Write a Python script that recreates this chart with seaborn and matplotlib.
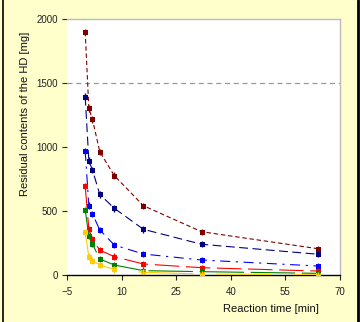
import numpy as np
import pandas as pd
import matplotlib
matplotlib.use("Agg")
import matplotlib.pyplot as plt
import seaborn as sns
from matplotlib.lines import Line2D

# ---- data ----
times = [0, 1, 2, 4, 8, 16, 32, 64]
series_names = ["S1", "S2", "S3", "S4", "S5", "S6"]
s1 = [1900, 1302, 1216, 963, 776, 541, 338, 205]
s2 = [1393, 893, 820, 630, 521, 357, 240, 162]
s3 = [969, 542, 477, 352, 234, 164, 117, 70]
s4 = [695, 359, 279, 195, 143, 86, 57, 31]
s5 = [508, 305, 242, 125, 78, 34, 26, 13]
s6 = [333, 143, 112, 78, 44, 21, 8, 2]
x_ticks = [-5, 10, 25, 40, 55, 70]
y_ticks = [0, 500, 1000, 1500, 2000]
x_err = 0.45
y_err = 25

colors = ["#800000", "#000080", "#0000FF", "#FF0000", "#008000", "#FFCC00"]
dash_styles = [(4, 2.5), (8, 4), (9, 5, 2, 5), (22, 6), (40, 6), (50, 20)]

values = [s1, s2, s3, s4, s5, s6]
df = pd.DataFrame({
    "t": np.tile(times, len(series_names)),
    "v": np.concatenate(values),
    "series": np.repeat(series_names, len(times)),
})

sns.set_style("white")
plt.rcParams["font.family"] = ["Liberation Sans", "DejaVu Sans"]

fig = plt.figure(figsize=(3.6, 3.22), dpi=100, facecolor="#FFFFCC")
ax = fig.add_axes([67 / 360, 1 - 275 / 322, (340 - 67) / 360, (275 - 19) / 322])
ax.set_facecolor("white")

palette = dict(zip(series_names, colors))
dashes = dict(zip(series_names, dash_styles))
markers = {n: "s" for n in series_names}

sns.lineplot(data=df, x="t", y="v", hue="series", style="series",
             palette=palette, dashes=dashes, markers=markers,
             markersize=3.6, markeredgewidth=0, linewidth=0.8,
             legend=False, ax=ax, zorder=3)

for name, vals, c in zip(series_names, values, colors):
    ax.errorbar(times, vals, xerr=x_err, yerr=y_err, fmt="none",
                ecolor=c, elinewidth=1.0, capsize=0, zorder=3)

ax.axhline(1500, color="#999999", lw=0.9, ls=(0, (4, 3)), zorder=1)

ax.set_xlim(-5, 70)
ax.set_ylim(0, 2000)
ax.set_xticks(x_ticks)
ax.set_yticks(y_ticks)
ax.tick_params(axis="both", labelsize=7, length=3.5, width=0.8,
               colors="#222222", direction="out")
ax.tick_params(axis="y", pad=3)
ax.tick_params(axis="x", pad=5)
ax.tick_params(axis="both", which="both", left=True, bottom=True)

for side in ["top", "right"]:
    ax.spines[side].set_visible(True)
    ax.spines[side].set_color("#BBBBBB")
    ax.spines[side].set_linewidth(1.0)
ax.spines["left"].set_visible(False)
ax.spines["bottom"].set_color("black")
ax.spines["bottom"].set_linewidth(1.0)

ax.set_xlabel("Reaction time [min]", fontsize=8, color="#111111")
ax.set_ylabel("Residual contents of the HD [mg]", fontsize=8, color="#111111")
ax.xaxis.set_label_coords((271 - 67) / 273, -(304 - 275) / 256)
ax.yaxis.set_label_coords(-(67 - 30) / 273, (275 - 114) / 256)

fig.add_artist(Line2D([3 / 360, 3 / 360], [0, 1], color="black", lw=1.2,
                      transform=fig.transFigure))
fig.add_artist(Line2D([358 / 360, 358 / 360], [0, 1], color="black", lw=2,
                      transform=fig.transFigure))

fig.savefig("out.png", dpi=100, facecolor=fig.get_facecolor())
